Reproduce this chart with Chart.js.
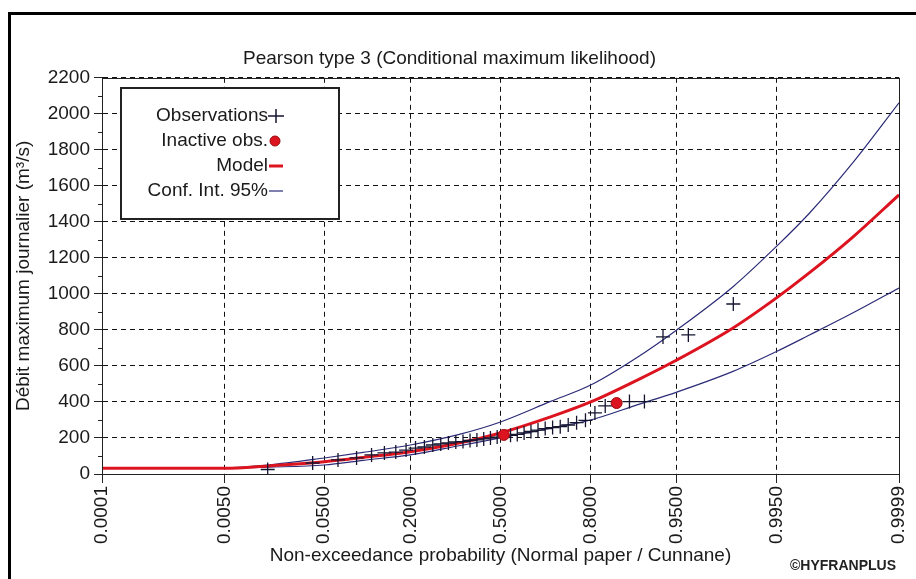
<!DOCTYPE html>
<html>
<head>
<meta charset="utf-8">
<script src="https://cdn.jsdelivr.net/npm/chart.js@4.4.1/dist/chart.umd.min.js"></script>
<style>
  html, body { margin: 0; padding: 0; background: #fff; }
  #wrap { position: relative; width: 916px; height: 579px; }
</style>
</head>
<body>
<div id="wrap"><canvas id="chart" width="916" height="579"></canvas></div>
<script>
// Frequency analysis chart - Pearson type 3 fit on normal probability paper

const titleText = 'Pearson type 3 (Conditional maximum likelihood)';
const xTitle = 'Non-exceedance probability (Normal paper / Cunnane)';
const yTitle = 'Débit maximum journalier (m³/s)';
const creditText = '©HYFRANPLUS';

// x axis ticks (non-exceedance probability)
const probTicks = [0.0001, 0.005, 0.05, 0.2, 0.5, 0.8, 0.95, 0.995, 0.9999];
const probTickLabels = ['0.0001', '0.0050', '0.0500', '0.2000', '0.5000', '0.8000', '0.9500', '0.9950', '0.9999'];

// y axis range
const flowMin = 0;
const flowMax = 2200;
const flowStep = 200;

// Observations (Cunnane plotting positions)
const obsProb = [0.0149, 0.0398, 0.0647, 0.0896, 0.1144, 0.1393, 0.1642, 0.1891, 0.2139, 0.2388,
  0.2637, 0.2886, 0.3134, 0.3383, 0.3632, 0.3881, 0.4129, 0.4378, 0.4627, 0.4876,
  0.5373, 0.5622, 0.5871, 0.6119, 0.6368, 0.6617, 0.6866, 0.7114, 0.7363, 0.7612,
  0.7861, 0.8109, 0.8358, 0.8856, 0.9104, 0.9353, 0.9602, 0.9851];
const obsFlow = [25, 61, 78, 89, 106, 117, 122, 133, 144, 150,
  161, 167, 172, 178, 180, 186, 189, 195, 200, 205,
  215, 220, 228, 236, 244, 252, 258, 263, 272, 285,
  298, 339, 378, 402, 402, 761, 772, 944];

// Inactive observations
const inactiveProb = [0.5124, 0.8607];
const inactiveFlow = [217, 394];

// Fitted model and 95% confidence interval
const curveProb = [0.0001, 0.005, 0.015, 0.05, 0.1, 0.2, 0.35, 0.5, 0.68, 0.8, 0.9, 0.95, 0.985, 0.995, 0.998, 0.9995, 0.9999];
const modelFlow = [32, 32, 45, 68, 92, 124, 172, 228, 317, 400, 523, 633, 811, 978, 1115, 1317, 1550];
const upperFlow = [32, 35, 50, 89, 120, 161, 220, 289, 403, 494, 650, 800, 1040, 1264, 1445, 1730, 2061];
const lowerFlow = [32, 32, 38, 50, 76, 106, 157, 200, 255, 300, 385, 455, 570, 680, 770, 895, 1033];

// Inverse of the standard normal CDF (Acklam)
function probit(p) {
  const a = [-3.969683028665376e+01, 2.209460984245205e+02, -2.759285104469687e+02, 1.383577518672690e+02, -3.066479806614716e+01, 2.506628277459239e+00];
  const b = [-5.447609879822406e+01, 1.615858368580409e+02, -1.556989798598866e+02, 6.680131188771972e+01, -1.328068155288572e+01];
  const c = [-7.784894002430293e-03, -3.223964580411365e-01, -2.400758277161838e+00, -2.549732539343734e+00, 4.374664141464968e+00, 2.938163982698783e+00];
  const d = [7.784695709041462e-03, 3.224671290700398e-01, 2.445134137142996e+00, 3.754408661907416e+00];
  const pLow = 0.02425;
  let q, r;
  if (p < pLow) {
    q = Math.sqrt(-2 * Math.log(p));
    return (((((c[0] * q + c[1]) * q + c[2]) * q + c[3]) * q + c[4]) * q + c[5]) /
      ((((d[0] * q + d[1]) * q + d[2]) * q + d[3]) * q + 1);
  }
  if (p <= 1 - pLow) {
    q = p - 0.5;
    r = q * q;
    return (((((a[0] * r + a[1]) * r + a[2]) * r + a[3]) * r + a[4]) * r + a[5]) * q /
      (((((b[0] * r + b[1]) * r + b[2]) * r + b[3]) * r + b[4]) * r + 1);
  }
  q = Math.sqrt(-2 * Math.log(1 - p));
  return -(((((c[0] * q + c[1]) * q + c[2]) * q + c[3]) * q + c[4]) * q + c[5]) /
    ((((d[0] * q + d[1]) * q + d[2]) * q + d[3]) * q + 1);
}

function toPoints(probs, values) {
  return probs.map((p, i) => ({ x: probit(p), y: values[i] }));
}

const FONT = "'Liberation Sans', Arial, sans-serif";
const TEXT = '#1a1a1a';
const RED = '#dc1420';
const NAVY = '#2c2c78';

Chart.defaults.font.family = FONT;
Chart.defaults.font.size = 19;
Chart.defaults.color = TEXT;

// Frame, plot border, minor ticks, legend box and credit
const decorPlugin = {
  id: 'decor',
  beforeDraw(chart) {
    const ctx = chart.ctx;
    ctx.save();
    ctx.fillStyle = '#fff';
    ctx.fillRect(0, 0, chart.width, chart.height);
    ctx.restore();
  },
  afterDraw(chart) {
    const ctx = chart.ctx;
    const area = chart.chartArea;
    const yScale = chart.scales.y;
    ctx.save();

    // outer frame
    ctx.strokeStyle = '#000';
    ctx.lineWidth = 3;
    ctx.beginPath();
    ctx.moveTo(9.5, chart.height + 2);
    ctx.lineTo(9.5, 13.5);
    ctx.lineTo(chart.width + 2, 13.5);
    ctx.stroke();

    // plot border
    ctx.strokeStyle = '#222';
    ctx.lineWidth = 1;
    ctx.strokeRect(Math.round(area.left) + 0.5, Math.round(area.top) + 0.5,
      Math.round(area.right - area.left), Math.round(area.bottom - area.top));

    // minor y ticks
    for (let v = flowMin + flowStep / 2; v < flowMax; v += flowStep) {
      const y = Math.round(yScale.getPixelForValue(v)) + 0.5;
      ctx.beginPath();
      ctx.moveTo(area.left - 4, y);
      ctx.lineTo(area.left, y);
      ctx.stroke();
    }

    // legend
    const box = { x: 121, y: 88, w: 218, h: 131 };
    ctx.fillStyle = '#fff';
    ctx.fillRect(box.x, box.y, box.w, box.h);
    ctx.lineWidth = 2;
    ctx.strokeStyle = '#222';
    ctx.strokeRect(box.x, box.y, box.w, box.h);

    const seen = new Set();
    const entries = chart.data.datasets.filter(ds => {
      if (seen.has(ds.label)) return false;
      seen.add(ds.label);
      return true;
    }).sort((a, b) => a.legendOrder - b.legendOrder);

    ctx.font = `19px ${FONT}`;
    ctx.textAlign = 'right';
    ctx.textBaseline = 'middle';
    entries.forEach((ds, i) => {
      const y = 116 + i * 25;
      const mx = 276;
      ctx.fillStyle = TEXT;
      ctx.fillText(ds.label, 268, y);
      if (ds.showLine) {
        ctx.strokeStyle = ds.borderColor;
        ctx.lineWidth = ds.borderWidth;
        ctx.beginPath();
        ctx.moveTo(mx - 7, y);
        ctx.lineTo(mx + 7, y);
        ctx.stroke();
      } else if (ds.pointStyle === 'cross') {
        ctx.strokeStyle = ds.borderColor;
        ctx.lineWidth = 1.5;
        ctx.beginPath();
        ctx.moveTo(mx - 8, y);
        ctx.lineTo(mx + 8, y);
        ctx.moveTo(mx, y - 7);
        ctx.lineTo(mx, y + 7);
        ctx.stroke();
      } else {
        ctx.fillStyle = ds.backgroundColor;
        ctx.strokeStyle = ds.borderColor;
        ctx.lineWidth = 1;
        ctx.beginPath();
        ctx.arc(mx - 1, y, 5, 0, Math.PI * 2);
        ctx.fill();
        ctx.stroke();
      }
    });

    // credit
    ctx.fillStyle = '#222';
    ctx.font = `bold 14px ${FONT}`;
    ctx.textAlign = 'left';
    ctx.fillText(creditText, 790, 566);
    ctx.restore();
  }
};

const ctx = document.getElementById('chart').getContext('2d');

new Chart(ctx, {
  type: 'scatter',
  data: {
    datasets: [
      {
        label: 'Observations',
        legendOrder: 0,
        data: toPoints(obsProb, obsFlow),
        pointStyle: 'cross',
        pointRadius: 7,
        pointHoverRadius: 7,
        borderWidth: 1.3,
        borderColor: '#141430',
        showLine: false,
        order: 1
      },
      {
        label: 'Inactive obs.',
        legendOrder: 1,
        data: toPoints(inactiveProb, inactiveFlow),
        pointStyle: 'circle',
        pointRadius: 5.5,
        backgroundColor: RED,
        borderColor: '#a00a10',
        borderWidth: 1,
        showLine: false,
        order: 0
      },
      {
        label: 'Model',
        legendOrder: 2,
        data: toPoints(curveProb, modelFlow),
        showLine: true,
        borderColor: RED,
        borderWidth: 3,
        pointRadius: 0,
        cubicInterpolationMode: 'monotone',
        order: 2
      },
      {
        label: 'Conf. Int. 95%',
        legendOrder: 3,
        data: toPoints(curveProb, upperFlow),
        showLine: true,
        borderColor: NAVY,
        borderWidth: 1.2,
        pointRadius: 0,
        cubicInterpolationMode: 'monotone',
        order: 3
      },
      {
        label: 'Conf. Int. 95%',
        legendOrder: 3,
        data: toPoints(curveProb, lowerFlow),
        showLine: true,
        borderColor: NAVY,
        borderWidth: 1.2,
        pointRadius: 0,
        cubicInterpolationMode: 'monotone',
        order: 3
      }
    ]
  },
  options: {
    responsive: false,
    animation: false,
    devicePixelRatio: 1,
    layout: {
      padding: { left: 0, right: 17, top: 0, bottom: 0 }
    },
    plugins: {
      legend: { display: false },
      tooltip: { enabled: false },
      title: {
        display: true,
        text: titleText,
        color: TEXT,
        font: { size: 19, weight: 'normal' },
        padding: { top: 47, bottom: 8 }
      }
    },
    scales: {
      x: {
        type: 'linear',
        min: probit(probTicks[0]),
        max: probit(probTicks[probTicks.length - 1]),
        afterBuildTicks: scale => {
          scale.ticks = probTicks.map(p => ({ value: probit(p) }));
        },
        afterFit: scale => {
          scale.height = 105;
          // rotated end label must not shrink the plot
          scale.paddingRight = 0;
        },
        ticks: {
          autoSkip: false,
          minRotation: 90,
          maxRotation: 90,
          padding: 3,
          color: TEXT,
          callback: (value, index) => probTickLabels[index]
        },
        grid: {
          color: '#111',
          lineWidth: 1,
          tickLength: 9,
          tickColor: '#222'
        },
        border: { color: '#222', width: 1, dash: [5, 4] },
        title: {
          display: true,
          text: xTitle,
          color: TEXT,
          font: { size: 19 },
          padding: { top: 0, bottom: 12 }
        }
      },
      y: {
        min: flowMin,
        max: flowMax,
        afterFit: scale => {
          scale.width = 102;
        },
        ticks: {
          stepSize: flowStep,
          padding: 4,
          color: TEXT,
          callback: value => value
        },
        grid: {
          color: '#111',
          lineWidth: 1,
          tickLength: 8,
          tickColor: '#222'
        },
        border: { color: '#222', width: 1, dash: [5, 4] },
        title: {
          display: true,
          text: yTitle,
          color: TEXT,
          font: { size: 19 },
          padding: { top: 12, bottom: 0 }
        }
      }
    }
  },
  plugins: [decorPlugin]
});
</script>
</body>
</html>
